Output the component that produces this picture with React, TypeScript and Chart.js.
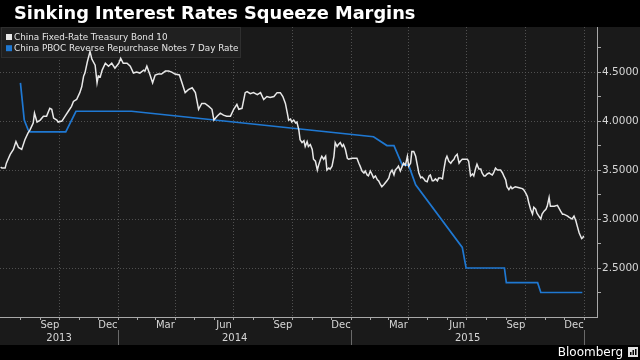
import React, { useEffect, useRef } from "react";
import { Chart, registerables } from "chart.js";

Chart.register(...registerables);

// ---------------- Data ----------------
const TITLE = "Sinking Interest Rates Squeeze Margins";
const SOURCE = "Bloomberg";
const seriesNames = [
  "China Fixed-Rate Treasury Bond 10",
  "China PBOC Reverse Repurchase Notes 7 Day Rate",
];

const bondDates = [
  "2013-07-01","2013-07-03","2013-07-08","2013-07-10","2013-07-16","2013-07-21","2013-07-25","2013-07-29",
  "2013-08-03","2013-08-08","2013-08-13","2013-08-16","2013-08-21","2013-08-23","2013-08-27","2013-09-01",
  "2013-09-06","2013-09-11","2013-09-16","2013-09-19","2013-09-22","2013-09-27","2013-09-29","2013-10-05",
  "2013-10-10","2013-10-15","2013-10-20","2013-10-23","2013-10-28","2013-11-02","2013-11-05","2013-11-08",
  "2013-11-10","2013-11-14","2013-11-18","2013-11-21","2013-11-26","2013-11-29","2013-12-01","2013-12-04",
  "2013-12-07","2013-12-12","2013-12-17","2013-12-22","2013-12-27","2014-01-02","2014-01-05","2014-01-09",
  "2014-01-15","2014-01-20","2014-01-25","2014-01-30","2014-02-04","2014-02-10","2014-02-12","2014-02-15",
  "2014-02-20","2014-02-24","2014-02-28","2014-03-05","2014-03-10","2014-03-16","2014-03-21","2014-03-26",
  "2014-03-31","2014-04-07","2014-04-11","2014-04-16","2014-04-21","2014-04-27","2014-05-02","2014-05-07",
  "2014-05-12","2014-05-17","2014-05-23","2014-05-28","2014-05-31","2014-06-05","2014-06-10","2014-06-15",
  "2014-06-20","2014-06-26","2014-07-01","2014-07-06","2014-07-09","2014-07-14","2014-07-19","2014-07-22",
  "2014-07-27","2014-08-01","2014-08-07","2014-08-12","2014-08-17","2014-08-22","2014-08-27","2014-09-02",
  "2014-09-07","2014-09-12","2014-09-16","2014-09-20","2014-09-23","2014-09-25","2014-09-28","2014-09-30",
  "2014-10-03","2014-10-06","2014-10-08","2014-10-11","2014-10-13","2014-10-16","2014-10-19","2014-10-21",
  "2014-10-24","2014-10-26","2014-10-29","2014-11-01","2014-11-03","2014-11-06","2014-11-09","2014-11-11",
  "2014-11-14","2014-11-16","2014-11-19","2014-11-22","2014-11-24","2014-11-27","2014-11-29","2014-12-02",
  "2014-12-05","2014-12-07","2014-12-10","2014-12-12","2014-12-15","2014-12-18","2014-12-20","2014-12-23",
  "2014-12-26","2014-12-28","2015-01-02","2015-01-08","2015-01-10","2015-01-13","2015-01-15","2015-01-18",
  "2015-01-21","2015-01-23","2015-01-26","2015-01-28","2015-01-31","2015-02-03","2015-02-05","2015-02-08",
  "2015-02-11","2015-02-13","2015-02-16","2015-02-18","2015-02-21","2015-02-26","2015-03-01","2015-03-03",
  "2015-03-06","2015-03-09","2015-03-11","2015-03-14","2015-03-16","2015-03-19","2015-03-22","2015-03-24",
  "2015-03-27","2015-03-30","2015-04-01","2015-04-04","2015-04-06","2015-04-09","2015-04-12","2015-04-14",
  "2015-04-17","2015-04-20","2015-04-22","2015-04-25","2015-04-27","2015-04-30","2015-05-03","2015-05-05",
  "2015-05-08","2015-05-10","2015-05-13","2015-05-16","2015-05-18","2015-05-21","2015-05-24","2015-05-26",
  "2015-05-29","2015-05-31","2015-06-03","2015-06-06","2015-06-08","2015-06-11","2015-06-13","2015-06-16",
  "2015-06-19","2015-06-21","2015-06-24","2015-06-26","2015-07-02","2015-07-04","2015-07-07","2015-07-10",
  "2015-07-12","2015-07-15","2015-07-17","2015-07-20","2015-07-23","2015-07-25","2015-07-28","2015-07-30",
  "2015-08-02","2015-08-05","2015-08-07","2015-08-10","2015-08-12","2015-08-15","2015-08-18","2015-08-23",
  "2015-08-26","2015-08-28","2015-08-31","2015-09-02","2015-09-05","2015-09-08","2015-09-10","2015-09-15",
  "2015-09-21","2015-09-26","2015-09-28","2015-10-01","2015-10-04","2015-10-06","2015-10-09","2015-10-12",
  "2015-10-14","2015-10-17","2015-10-19","2015-10-22","2015-10-25","2015-10-27","2015-10-30","2015-11-02",
  "2015-11-04","2015-11-07","2015-11-09","2015-11-12","2015-11-15","2015-11-20","2015-11-25","2015-11-28",
  "2015-11-30","2015-12-06","2015-12-08","2015-12-13","2015-12-16","2015-12-19","2015-12-21","2015-12-24",
  "2015-12-26","2015-12-28","2015-12-30","2015-12-31",
];
const bondValues = [
  3.53,3.52,3.52,3.57,3.66,3.71,3.79,3.73,
  3.71,3.81,3.88,3.91,3.98,4.08,3.99,4.01,
  4.05,4.05,4.13,4.12,4.03,4.01,3.99,4.00,
  4.05,4.10,4.15,4.20,4.22,4.29,4.35,4.46,
  4.49,4.61,4.71,4.63,4.57,4.39,4.46,4.45,
  4.52,4.59,4.56,4.59,4.54,4.59,4.64,4.59,
  4.59,4.56,4.49,4.50,4.49,4.52,4.51,4.56,
  4.47,4.39,4.47,4.48,4.48,4.51,4.51,4.50,
  4.48,4.47,4.39,4.29,4.32,4.34,4.29,4.12,
  4.18,4.18,4.15,4.12,4.01,4.05,4.08,4.06,
  4.05,4.05,4.12,4.17,4.12,4.13,4.29,4.30,
  4.28,4.29,4.27,4.29,4.22,4.25,4.24,4.25,
  4.29,4.29,4.25,4.18,4.08,4.01,4.02,3.99,
  4.01,3.98,3.99,3.91,3.81,3.78,3.80,3.74,
  3.79,3.74,3.76,3.71,3.61,3.59,3.50,3.55,
  3.61,3.64,3.61,3.64,3.50,3.52,3.51,3.54,
  3.64,3.78,3.74,3.76,3.78,3.74,3.76,3.71,
  3.62,3.61,3.62,3.62,3.62,3.57,3.54,3.49,
  3.47,3.49,3.45,3.44,3.49,3.45,3.42,3.44,
  3.40,3.39,3.35,3.33,3.35,3.39,3.42,3.47,
  3.50,3.45,3.50,3.52,3.54,3.49,3.54,3.57,
  3.55,3.64,3.54,3.57,3.69,3.69,3.64,3.57,
  3.47,3.42,3.43,3.41,3.39,3.38,3.44,3.45,
  3.39,3.39,3.41,3.39,3.42,3.42,3.41,3.50,
  3.61,3.64,3.59,3.57,3.59,3.61,3.64,3.66,
  3.57,3.59,3.61,3.61,3.61,3.59,3.44,3.46,
  3.44,3.52,3.56,3.51,3.51,3.47,3.44,3.44,
  3.46,3.47,3.46,3.45,3.47,3.52,3.50,3.50,
  3.47,3.44,3.40,3.33,3.30,3.33,3.31,3.33,
  3.32,3.31,3.30,3.27,3.23,3.17,3.10,3.05,
  3.12,3.10,3.06,3.03,3.00,3.05,3.08,3.10,
  3.13,3.22,3.13,3.13,3.13,3.14,3.08,3.05,
  3.05,3.03,3.02,3.00,3.03,2.98,2.93,2.86,
  2.83,2.80,2.81,2.83,
];

const repoDates = [
  "2013-08-01","2013-08-07","2013-08-13","2013-08-16","2013-10-11","2013-10-27","2014-01-22",
  "2015-02-05","2015-02-26","2015-03-09","2015-03-22","2015-04-01","2015-04-12","2015-06-24",
  "2015-06-30","2015-08-29","2015-09-01","2015-10-20","2015-10-25","2015-12-29",
];
const repoValues = [
  4.39,4.01,3.91,3.89,3.89,4.10,4.10,
  3.84,3.75,3.75,3.55,3.55,3.35,2.71,
  2.50,2.50,2.35,2.35,2.25,2.25,
];

const monthLabels = ["Sep","Dec","Mar","Jun","Sep","Dec","Mar","Jun","Sep","Dec"];
const monthLabelDates = [
  "2013-09-16","2013-12-16","2014-03-16","2014-06-16","2014-09-16",
  "2014-12-16","2015-03-16","2015-06-16","2015-09-16","2015-12-16",
];
const yearLabels = ["2013","2014","2015"];
const yTickValues = [2.25,2.5,2.75,3.0,3.25,3.5,3.75,4.0,4.25,4.5,4.75];

const X_START = "2013-06-30";
const X_END = "2016-01-21";
const Y_MIN = 2.0;
const Y_MAX = 4.96;

// ---------------- Styles ----------------
const BG_OUTER = "#000000";
const BG_PLOT = "#1a1a1a";
const GRID = "rgba(90,90,90,0.85)";
const AXIS = "#a8a8a8";
const TEXT = "#d6d6d6";
const WHITE_LINE = "#e8e8e8";
const BLUE_LINE = "#1f78d2";
const FONT = '"DejaVu Sans", sans-serif';

function dayNum(s: string): number {
  const [y, m, d] = s.split("-").map(Number);
  return (Date.UTC(y, m - 1, d) - Date.UTC(2014, 0, 1)) / 86400000;
}

function monthStarts(): number[] {
  const out: number[] = [];
  const lo = dayNum(X_START);
  const hi = dayNum(X_END);
  for (let y = 2013; y <= 2016; y++) {
    for (let m = 0; m < 12; m++) {
      const v = (Date.UTC(y, m, 1) - Date.UTC(2014, 0, 1)) / 86400000;
      if (v > lo + 5 && v < hi) out.push(v);
    }
  }
  return out;
}

function isQuarterStart(v: number): boolean {
  const d = new Date(Date.UTC(2014, 0, 1) + v * 86400000);
  return d.getUTCDate() === 1 && d.getUTCMonth() % 3 === 0;
}

const chromePlugin = {
  id: "chrome",
  beforeDraw(chart: any) {
    const { ctx, width, height } = chart;
    ctx.save();
    ctx.fillStyle = BG_OUTER;
    ctx.fillRect(0, 0, width, height);
    ctx.fillStyle = BG_PLOT;
    ctx.fillRect(0, 27, width, 318);
    // title
    ctx.fillStyle = "#ffffff";
    ctx.font = `bold 17.8px ${FONT}`;
    ctx.textAlign = "left";
    ctx.textBaseline = "alphabetic";
    ctx.fillText(TITLE, 14, 19);
    ctx.restore();
  },
  beforeDatasetsDraw(chart: any) {
    const { ctx } = chart;
    ctx.save();
    ctx.fillStyle = "#202020";
    ctx.fillRect(1, 27, 240, 31);
    ctx.strokeStyle = "#2f2f2f";
    ctx.lineWidth = 1;
    ctx.strokeRect(1.5, 27.5, 239, 30);
    ctx.font = `8.8px ${FONT}`;
    ctx.textBaseline = "middle";
    ctx.textAlign = "left";
    chart.data.datasets.forEach((ds: any, i: number) => {
      const cy = 37 + i * 11.2;
      ctx.fillStyle = ds.borderColor;
      ctx.fillRect(6, cy - 3, 6, 6);
      ctx.fillStyle = "#e6e6e6";
      ctx.fillText(ds.label, 14, cy + 0.5);
    });
    ctx.restore();
  },
  afterDraw(chart: any) {
    const { ctx } = chart;
    const xs = chart.scales.x;
    const bottom = chart.chartArea.bottom;
    ctx.save();
    ctx.fillStyle = TEXT;
    ctx.font = `10px ${FONT}`;
    ctx.textAlign = "center";
    ctx.textBaseline = "middle";
    monthLabels.forEach((l, i) => {
      ctx.fillText(l, xs.getPixelForValue(dayNum(monthLabelDates[i])), bottom + 8.5);
    });
    const lo = dayNum(X_START);
    const hi = dayNum(X_END);
    yearLabels.forEach((y) => {
      const yr = Number(y);
      const a = Math.max(lo, dayNum(`${yr}-01-01`));
      const b = Math.min(hi, dayNum(`${yr + 1}-01-01`));
      ctx.fillText(y, xs.getPixelForValue((a + b) / 2), bottom + 21.5);
    });
    ctx.strokeStyle = "#6a6a6a";
    ctx.lineWidth = 1;
    [...yearLabels.slice(1), String(Number(yearLabels[yearLabels.length - 1]) + 1)].forEach((y) => {
      const px = Math.round(xs.getPixelForValue(dayNum(`${y}-01-01`))) + 0.5;
      ctx.beginPath();
      ctx.moveTo(px, bottom + 13);
      ctx.lineTo(px, bottom + 28);
      ctx.stroke();
    });
    // footer
    ctx.fillStyle = "#ffffff";
    ctx.font = `12px ${FONT}`;
    ctx.textAlign = "right";
    ctx.textBaseline = "alphabetic";
    ctx.fillText(SOURCE, 623, 355.5);
    ctx.fillStyle = "#e0e0e0";
    ctx.fillRect(628, 347, 10, 10);
    ctx.fillStyle = "#000";
    ctx.fillRect(630, 352, 1.5, 3);
    ctx.fillRect(632.5, 350, 1.5, 5);
    ctx.fillRect(635, 349, 1.5, 6);
    ctx.restore();
  },
};

export default function App() {
  const ref = useRef<HTMLCanvasElement | null>(null);
  useEffect(() => {
    document.body.style.margin = "0";
    const canvas = ref.current;
    if (!canvas) return;
    const bond = bondDates.map((d, i) => ({ x: dayNum(d), y: bondValues[i] }));
    const repo = repoDates.map((d, i) => ({ x: dayNum(d), y: repoValues[i] }));
    const chart = new Chart(canvas, {
      type: "line",
      data: {
        datasets: [
          {
            label: seriesNames[0],
            data: bond,
            borderColor: WHITE_LINE,
            backgroundColor: WHITE_LINE,
            borderWidth: 1.5,
            pointRadius: 0,
            tension: 0,
          },
          {
            label: seriesNames[1],
            data: repo,
            borderColor: BLUE_LINE,
            backgroundColor: BLUE_LINE,
            borderWidth: 1.7,
            pointRadius: 0,
            tension: 0,
          },
        ],
      },
      options: {
        animation: false,
        responsive: false,
        devicePixelRatio: 1,
        events: [],
        layout: { padding: { top: 27, left: 0, right: 0, bottom: 0 } },
        plugins: { legend: { display: false }, tooltip: { enabled: false }, title: { display: false } },
        scales: {
          x: {
            type: "linear",
            position: "bottom",
            min: dayNum(X_START),
            max: dayNum(X_END),
            afterBuildTicks: (s: any) => {
              s.ticks = monthStarts().map((v) => ({ value: v }));
            },
            ticks: { display: false },
            grid: {
              color: (c: any) => (c.tick && isQuarterStart(c.tick.value) ? GRID : "rgba(0,0,0,0)"),
              tickColor: AXIS,
              tickLength: 3,
              lineWidth: 1,
            },
            border: { display: true, color: AXIS, width: 1, dash: [1, 2] },
            afterFit: (s: any) => {
              s.height = 43;
            },
          },
          y: {
            type: "linear",
            position: "right",
            min: Y_MIN,
            max: Y_MAX,
            afterBuildTicks: (s: any) => {
              s.ticks = yTickValues.map((v) => ({ value: v }));
            },
            ticks: {
              color: TEXT,
              font: { family: "DejaVu Sans", size: 10.5 },
              padding: 1,
              callback: (v: any) => {
                const n = Number(v);
                return Math.abs(n * 2 - Math.round(n * 2)) < 1e-6 ? n.toFixed(4) : "";
              },
            },
            grid: {
              color: (c: any) => {
                if (!c.tick) return "rgba(0,0,0,0)";
                const n = c.tick.value;
                return Math.abs(n * 2 - Math.round(n * 2)) < 1e-6 ? GRID : "rgba(0,0,0,0)";
              },
              tickColor: AXIS,
              tickLength: 4,
              lineWidth: 1,
            },
            border: { display: true, color: AXIS, width: 1, dash: [1, 2] },
            afterFit: (s: any) => {
              s.width = 43;
            },
          },
        },
      },
      plugins: [chromePlugin],
    });
    return () => chart.destroy();
  }, []);
  return (
    <div style={{ position: "absolute", left: 0, top: 0, width: 640, height: 360 }}>
      <canvas ref={ref} width={640} height={360} style={{ display: "block" }} />
    </div>
  );
}
